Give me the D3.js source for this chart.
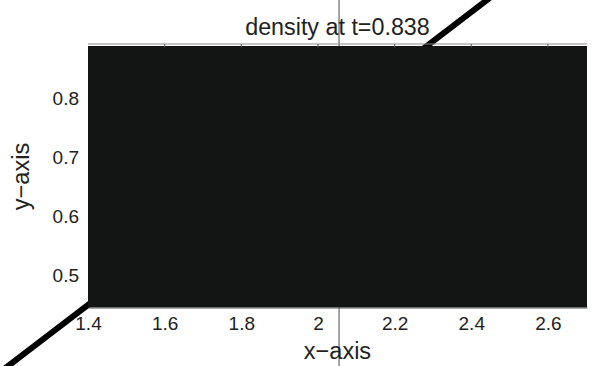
<!DOCTYPE html>
<html><head><meta charset="utf-8">
<script src="https://cdn.jsdelivr.net/npm/d3@7"></script>
<style>
body{margin:0;background:#fff;}
text{font-family:"Liberation Sans",Arial,sans-serif;fill:#222;}
</style></head>
<body><svg id="c" width="592" height="366"></svg>
<script>
const titleText = "density at t=0.838";
const xLabel = "x\u2212axis";
const yLabel = "y\u2212axis";
const xDomain = [1.4, 2.702];
const yDomain = [0.4449, 0.889];
const xTicks = [1.4, 1.6, 1.8, 2.0, 2.2, 2.4, 2.6];
const xTickLabels = ["1.4", "1.6", "1.8", "2", "2.2", "2.4", "2.6"];
const yTicks = [0.5, 0.6, 0.7, 0.8];
const yTickLabels = ["0.5", "0.6", "0.7", "0.8"];
// density field extent and (uniform) value
const fieldX = [1.4, 2.702];
const fieldY = [0.4449, 0.889];
const fieldValue = [0];
// thick diagonal line (data coords)
const diagX = [1.0, 2.6];
const diagY = [0.2507, 1.0450];
// thin vertical marker line
const vertX = [2.055, 2.055];
const vertY = [0.30, 1.00];

const svg = d3.select("#c");
const m = {l:88, r:5, t:45.5, b:58.5};
const W = 592, H = 366;
const x = d3.scaleLinear().domain(xDomain).range([m.l, W - m.r]);
const y = d3.scaleLinear().domain(yDomain).range([H - m.b, m.t]);
const color = d3.scaleLinear().domain([0, 1]).range(["#131514", "#ffffff"]);

svg.append("line")
  .attr("x1", x(vertX[0])).attr("x2", x(vertX[1]))
  .attr("y1", y(vertY[0])).attr("y2", y(vertY[1]))
  .attr("stroke", "#4a4a4a").attr("stroke-width", 1);

svg.append("line")
  .attr("x1", x(diagX[0])).attr("x2", x(diagX[1]))
  .attr("y1", y(diagY[0])).attr("y2", y(diagY[1]))
  .attr("stroke", "#000").attr("stroke-width", 6);

svg.append("line")
  .attr("x1", x(xDomain[0])).attr("x2", x(xDomain[1]))
  .attr("y1", y(yDomain[1]) - 1.5).attr("y2", y(yDomain[1]) - 1.5)
  .attr("stroke", "#8c8c8c").attr("stroke-width", 1);

svg.append("rect")
  .attr("x", x(fieldX[0])).attr("y", y(fieldY[1]) + 0.5)
  .attr("width", x(fieldX[1]) - x(fieldX[0]))
  .attr("height", y(fieldY[0]) - y(fieldY[1]) - 0.5)
  .attr("fill", color(fieldValue[0]));

svg.append("g").selectAll("line").data(xTicks.slice(1)).join("line")
  .attr("x1", d => x(d)).attr("x2", d => x(d))
  .attr("y1", y(yDomain[1]) - 1.5).attr("y2", y(yDomain[1]) + 2)
  .attr("stroke", "#555").attr("stroke-width", 1);

const xa = svg.append("g").attr("transform", `translate(0,${y(yDomain[0])})`)
  .call(d3.axisBottom(x).tickValues(xTicks).tickFormat((d,i) => xTickLabels[i]).tickSize(0).tickPadding(9));
xa.select(".domain").attr("stroke", "#555");
xa.selectAll("text").attr("font-size", 19).attr("font-family", "Liberation Sans, Arial, sans-serif").style("fill", "#222");

const ya = svg.append("g").attr("transform", `translate(${x(xDomain[0])},0)`)
  .call(d3.axisLeft(y).tickValues(yTicks).tickFormat((d,i) => yTickLabels[i]).tickSize(0).tickPadding(9));
ya.select(".domain").remove();
ya.selectAll("text").attr("font-size", 19).attr("font-family", "Liberation Sans, Arial, sans-serif").style("fill", "#222");

const cx = (x(xDomain[0]) + x(xDomain[1])) / 2;
svg.append("text").attr("x", cx).attr("y", 35)
  .attr("text-anchor", "middle").attr("font-size", 23.3).text(titleText);
svg.append("text").attr("x", cx).attr("y", 359)
  .attr("text-anchor", "middle").attr("font-size", 23.5).text(xLabel);
svg.append("text").attr("transform", `translate(29,${(y(yDomain[0]) + y(yDomain[1])) / 2}) rotate(-90)`)
  .attr("text-anchor", "middle").attr("font-size", 23.5).text(yLabel);
</script></body></html>
